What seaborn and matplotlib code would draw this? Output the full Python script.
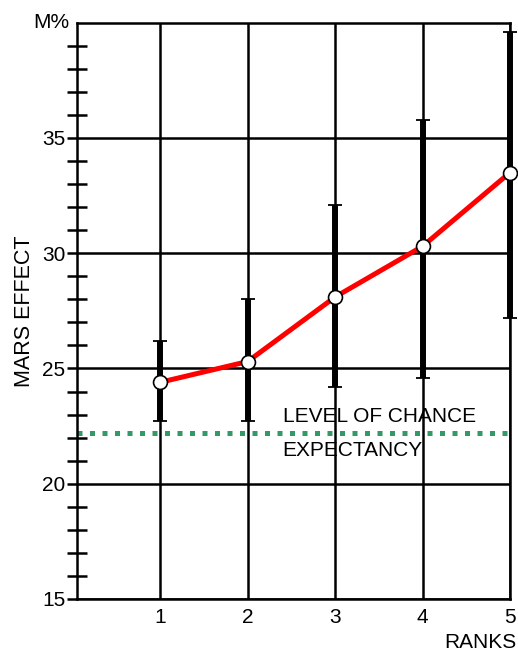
import matplotlib
matplotlib.use("Agg")
import matplotlib.pyplot as plt
import matplotlib.ticker as mticker
import pandas as pd
import seaborn as sns

# values
ranks = [1, 2, 3, 4, 5]
mars_effect = [24.4, 25.3, 28.1, 30.3, 33.5]
lower = [22.7, 22.7, 24.2, 24.6, 27.2]
upper = [26.2, 28.0, 32.1, 35.8, 39.6]
chance_level = 22.2
y_ticks = [15, 20, 25, 30, 35]

sns.set_style("white")
plt.rcParams['font.family'] = ['Liberation Sans', 'DejaVu Sans']
plt.rcParams['text.color'] = 'black'
plt.rcParams['xtick.color'] = 'black'
plt.rcParams['ytick.color'] = 'black'

df = pd.DataFrame({'rank': ranks, 'effect': mars_effect, 'low': lower, 'high': upper})

fig = plt.figure(figsize=(5.18, 6.51), dpi=100)
ax = fig.add_axes([77 / 518, 1 - 599 / 651, (510 - 77) / 518, (599 - 22.7) / 651])

ax.set_xlim(0.05, 5)
ax.set_ylim(15, 40)
ax.set_xticks(ranks)
ax.set_yticks(y_ticks)
ax.yaxis.set_minor_locator(mticker.FixedLocator([v for v in range(16, 40) if v % 5]))
ax.grid(True, which='major', color='black', lw=1.8)
ax.set_axisbelow(True)

# asymmetric error bars
yerr = [df['effect'] - df['low'], df['high'] - df['effect']]
eb = ax.errorbar(df['rank'], df['effect'], yerr=yerr, fmt='none', ecolor='black',
                 elinewidth=4.3, capsize=4.7, capthick=1.3, zorder=3)
for art in eb.lines[1] + eb.lines[2]:
    art.set_clip_on(False)

sns.lineplot(data=df, x='rank', y='effect', color='red', lw=3.6, marker='o',
             markersize=10, markerfacecolor='white', markeredgecolor='black',
             markeredgewidth=1.2, zorder=4, clip_on=False, ax=ax)

ax.axhline(chance_level, color='#339966', lw=3.6, linestyle=(0, (1, 1.5)),
           dash_capstyle='butt', zorder=2)
ax.text(2.4, 22.9, 'LEVEL OF CHANCE', fontsize=15, va='center', ha='left')
ax.text(2.4, 21.45, 'EXPECTANCY', fontsize=15, va='center', ha='left')

for s in ax.spines.values():
    s.set_color('black')
    s.set_linewidth(1.8)

ax.tick_params(axis='y', which='major', length=7, width=1.8, direction='out',
               pad=1.5, labelsize=15, left=True)
ax.tick_params(axis='y', which='minor', length=13.7, width=1.8, direction='inout', left=True)
ax.tick_params(axis='x', which='major', length=0, pad=6.5, labelsize=15)

ax.set_xlabel('')
ax.set_ylabel('')
fig.text(517 / 518, 1 - 642 / 651, 'RANKS', fontsize=15, ha='right', va='center')
fig.text(25 / 518, 1 - 311 / 651, 'MARS EFFECT', fontsize=15.5, rotation=90,
         ha='center', va='center')
fig.text(69 / 518, 1 - 22 / 651, 'M%', fontsize=15, ha='right', va='center')

fig.savefig('out.png', dpi=100)
